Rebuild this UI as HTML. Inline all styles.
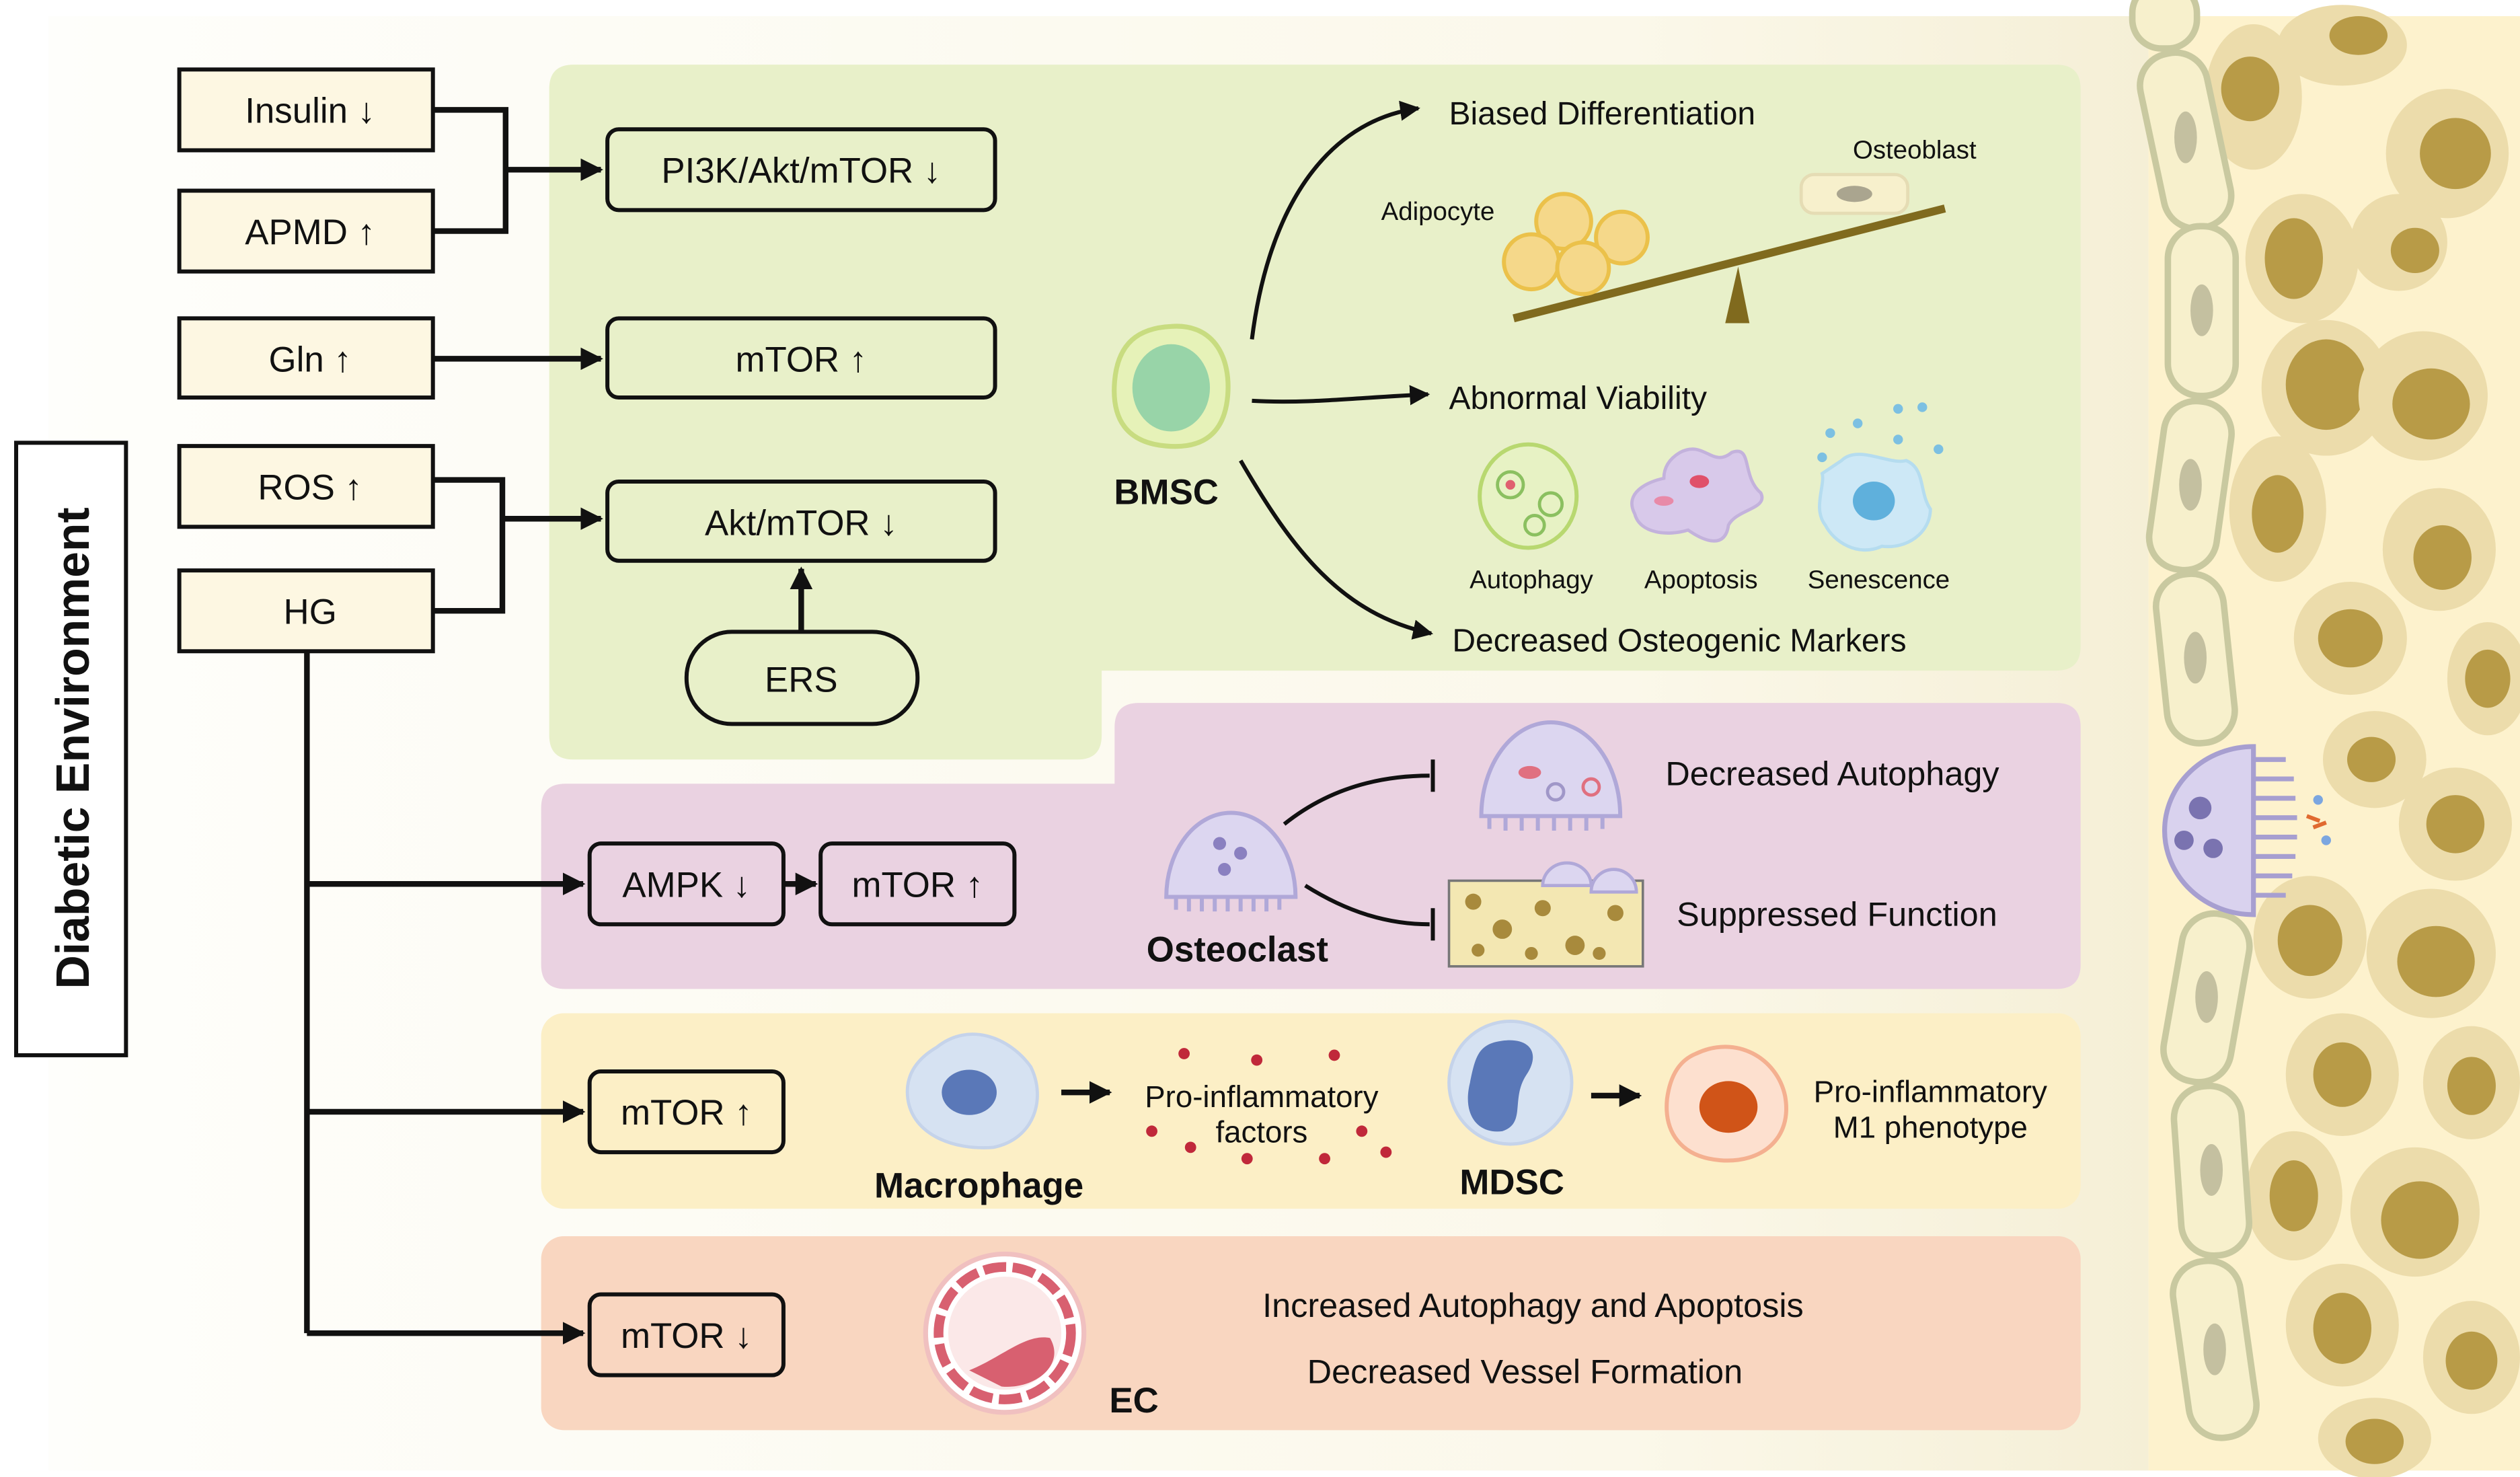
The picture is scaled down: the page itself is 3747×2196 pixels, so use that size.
<!DOCTYPE html>
<html><head><meta charset="utf-8"><style>
html,body{margin:0;padding:0;background:#fff;}
svg{display:block;}
text{font-family:"Liberation Sans",sans-serif;fill:#111;}
</style></head><body>
<svg width="3747" height="2196" viewBox="0 0 1560 914" preserveAspectRatio="none" xmlns="http://www.w3.org/2000/svg">
<defs>
<linearGradient id="bg" x1="0" y1="0" x2="1" y2="0">
<stop offset="0" stop-color="#fefefb"/><stop offset="0.75" stop-color="#fbf8ea"/><stop offset="1" stop-color="#f5efd6"/>
</linearGradient>
<marker id="ar" viewBox="0 0 10 10" refX="9" refY="5" markerWidth="4" markerHeight="4" orient="auto"><path d="M0,0L10,5L0,10z" fill="#111"/></marker>
<marker id="ar2" viewBox="0 0 10 10" refX="9" refY="5" markerWidth="5" markerHeight="5" orient="auto"><path d="M0,0L10,5L0,10z" fill="#111"/></marker>
</defs>
<rect width="1560" height="914" fill="#fff"/>
<rect x="30" y="10" width="1300" height="900" fill="url(#bg)"/>
<!-- bone tissue -->
<rect x="1330" y="10" width="230" height="900" fill="#fdf2cd"/>
<g>
<ellipse cx="1395" cy="60" rx="30" ry="45" fill="#ecdcab"/><ellipse cx="1393" cy="55" rx="18" ry="20" fill="#b89b47"/>
<ellipse cx="1425" cy="160" rx="35" ry="40" fill="#ecdcab"/><ellipse cx="1420" cy="160" rx="18" ry="25" fill="#b89b47"/>
<ellipse cx="1450" cy="28" rx="40" ry="25" fill="#ecdcab"/><ellipse cx="1460" cy="22" rx="18" ry="12" fill="#b89b47"/>
<ellipse cx="1515" cy="95" rx="38" ry="40" fill="#ecdcab"/><ellipse cx="1520" cy="95" rx="22" ry="22" fill="#b89b47"/>
<ellipse cx="1485" cy="150" rx="30" ry="30" fill="#ecdcab"/><ellipse cx="1495" cy="155" rx="15" ry="14" fill="#b89b47"/>
<ellipse cx="1440" cy="240" rx="40" ry="42" fill="#ecdcab"/><ellipse cx="1440" cy="238" rx="25" ry="28" fill="#b89b47"/>
<ellipse cx="1410" cy="315" rx="30" ry="45" fill="#ecdcab"/><ellipse cx="1410" cy="318" rx="16" ry="24" fill="#b89b47"/>
<ellipse cx="1500" cy="245" rx="40" ry="40" fill="#ecdcab"/><ellipse cx="1505" cy="250" rx="24" ry="22" fill="#b89b47"/>
<ellipse cx="1510" cy="340" rx="35" ry="38" fill="#ecdcab"/><ellipse cx="1512" cy="345" rx="18" ry="20" fill="#b89b47"/>
<ellipse cx="1455" cy="395" rx="35" ry="35" fill="#ecdcab"/><ellipse cx="1455" cy="395" rx="20" ry="18" fill="#b89b47"/>
<ellipse cx="1540" cy="420" rx="25" ry="35" fill="#ecdcab"/><ellipse cx="1540" cy="420" rx="14" ry="18" fill="#b89b47"/>
<ellipse cx="1470" cy="470" rx="32" ry="30" fill="#ecdcab"/><ellipse cx="1468" cy="470" rx="15" ry="14" fill="#b89b47"/>
<ellipse cx="1520" cy="510" rx="35" ry="35" fill="#ecdcab"/><ellipse cx="1520" cy="510" rx="18" ry="18" fill="#b89b47"/>
<ellipse cx="1430" cy="580" rx="35" ry="38" fill="#ecdcab"/><ellipse cx="1430" cy="582" rx="20" ry="22" fill="#b89b47"/>
<ellipse cx="1505" cy="590" rx="40" ry="40" fill="#ecdcab"/><ellipse cx="1508" cy="595" rx="24" ry="22" fill="#b89b47"/>
<ellipse cx="1450" cy="665" rx="35" ry="38" fill="#ecdcab"/><ellipse cx="1450" cy="665" rx="18" ry="20" fill="#b89b47"/>
<ellipse cx="1530" cy="670" rx="30" ry="35" fill="#ecdcab"/><ellipse cx="1530" cy="672" rx="15" ry="18" fill="#b89b47"/>
<ellipse cx="1420" cy="740" rx="30" ry="40" fill="#ecdcab"/><ellipse cx="1420" cy="740" rx="15" ry="22" fill="#b89b47"/>
<ellipse cx="1495" cy="750" rx="40" ry="40" fill="#ecdcab"/><ellipse cx="1498" cy="755" rx="24" ry="24" fill="#b89b47"/>
<ellipse cx="1450" cy="820" rx="35" ry="38" fill="#ecdcab"/><ellipse cx="1450" cy="822" rx="18" ry="22" fill="#b89b47"/>
<ellipse cx="1530" cy="840" rx="30" ry="35" fill="#ecdcab"/><ellipse cx="1530" cy="842" rx="16" ry="18" fill="#b89b47"/>
<ellipse cx="1470" cy="890" rx="35" ry="25" fill="#ecdcab"/><ellipse cx="1470" cy="892" rx="18" ry="14" fill="#b89b47"/>
</g>
<!-- lining cells -->
<g fill="#f7f0cc" stroke="#c9c9a0" stroke-width="4">
<rect x="1320" y="-10" width="40" height="40" rx="18"/>
<rect x="1332" y="32" width="42" height="110" rx="20" transform="rotate(-12 1353 87)"/>
<rect x="1342" y="140" width="42" height="105" rx="20"/>
<rect x="1335" y="248" width="42" height="105" rx="20" transform="rotate(8 1356 300)"/>
<rect x="1338" y="355" width="42" height="105" rx="20" transform="rotate(-6 1359 407)"/>
<rect x="1345" y="565" width="42" height="105" rx="20" transform="rotate(10 1366 617)"/>
<rect x="1348" y="672" width="42" height="105" rx="20" transform="rotate(-4 1369 724)"/>
<rect x="1350" y="780" width="42" height="110" rx="20" transform="rotate(-8 1371 835)"/>
</g>
<g fill="#c4c0a0">
<ellipse cx="1353" cy="85" rx="7" ry="16"/><ellipse cx="1363" cy="192" rx="7" ry="16"/><ellipse cx="1356" cy="300" rx="7" ry="16"/><ellipse cx="1359" cy="407" rx="7" ry="16"/><ellipse cx="1366" cy="617" rx="7" ry="16"/><ellipse cx="1369" cy="724" rx="7" ry="16"/><ellipse cx="1371" cy="835" rx="7" ry="16"/>
</g>
<!-- osteoclast on bone -->
<path d="M1395,462 A55,52 0 0 0 1395,566 Z" fill="#d9d2ee" stroke="#a79fd0" stroke-width="3"/>
<g stroke="#a79fd0" stroke-width="3" fill="none"><path d="M1395,470h20M1395,482h25M1395,494h26M1395,506h27M1395,518h27M1395,530h26M1395,542h24M1395,554h20"/></g>
<circle cx="1362" cy="500" r="7" fill="#7a73b0"/><circle cx="1352" cy="520" r="6" fill="#7a73b0"/><circle cx="1370" cy="525" r="6" fill="#7a73b0"/>
<circle cx="1435" cy="495" r="3" fill="#7ba6e0"/><circle cx="1440" cy="520" r="3" fill="#7ba6e0"/><path d="M1428,505 l8,3 M1432,512 l8,-3" stroke="#e06a30" stroke-width="2.5"/>

<!-- Diabetic environment -->
<rect x="10" y="274" width="68" height="379" fill="#fff" stroke="#111" stroke-width="2.5"/>
<text transform="translate(55 463) rotate(-90)" text-anchor="middle" font-size="29" font-weight="bold">Diabetic Environment</text>

<!-- panels -->
<path d="M355,40 H1273 Q1288,40 1288,55 V400 Q1288,415 1273,415 H682 V455 Q682,470 667,470 H355 Q340,470 340,455 V55 Q340,40 355,40Z" fill="#e8f0c9"/>
<path d="M705,435 H1273 Q1288,435 1288,450 V597 Q1288,612 1273,612 H350 Q335,612 335,597 V500 Q335,485 350,485 H690 V450 Q690,435 705,435Z" fill="#ead2e1"/>
<rect x="335" y="627" width="953" height="121" rx="14" fill="#fcefc6"/>
<rect x="335" y="765" width="953" height="120" rx="14" fill="#f9d6c0"/>

<!-- left boxes -->
<g fill="#fdf7e2" stroke="#111" stroke-width="2.5">
<rect x="111" y="43" width="157" height="50"/><rect x="111" y="118" width="157" height="50"/><rect x="111" y="197" width="157" height="49"/><rect x="111" y="276" width="157" height="50"/><rect x="111" y="353" width="157" height="50"/>
</g>
<g font-size="22" text-anchor="middle">
<text x="192" y="76">Insulin ↓</text><text x="192" y="151">APMD ↑</text><text x="192" y="230">Gln ↑</text><text x="192" y="309">ROS ↑</text><text x="192" y="386">HG</text>
</g>
<!-- green boxes -->
<g fill="#e8f0c9" stroke="#111" stroke-width="2.5">
<rect x="376" y="80" width="240" height="50" rx="7"/><rect x="376" y="197" width="240" height="49" rx="7"/><rect x="376" y="298" width="240" height="49" rx="7"/><rect x="425" y="391" width="143" height="57" rx="28"/>
</g>
<g font-size="22" text-anchor="middle">
<text x="496" y="113">PI3K/Akt/mTOR ↓</text><text x="496" y="230">mTOR ↑</text><text x="496" y="331">Akt/mTOR ↓</text><text x="496" y="428">ERS</text>
</g>
<!-- connectors -->
<g stroke="#111" stroke-width="3.5" fill="none">
<path d="M268,68H313V143H268"/><path d="M313,105H372" marker-end="url(#ar)"/>
<path d="M268,222H372" marker-end="url(#ar)"/>
<path d="M268,297H311V378H268"/><path d="M311,321H372" marker-end="url(#ar)"/>
<path d="M496,391V352" marker-end="url(#ar)"/>
<path d="M190,403V825"/>
<path d="M190,547H361" marker-end="url(#ar)"/><path d="M190,688H361" marker-end="url(#ar)"/><path d="M190,825H361" marker-end="url(#ar)"/>
<path d="M485,547H505" marker-end="url(#ar)"/>
</g>
<g fill="none" stroke="#111" stroke-width="2.5">
<rect x="365" y="522" width="120" height="50" rx="7"/><rect x="508" y="522" width="120" height="50" rx="7"/><rect x="365" y="663" width="120" height="50" rx="7"/><rect x="365" y="801" width="120" height="50" rx="7"/>
</g>
<g font-size="22" text-anchor="middle">
<text x="425" y="555">AMPK ↓</text><text x="568" y="555">mTOR ↑</text><text x="425" y="696">mTOR ↑</text><text x="425" y="834">mTOR ↓</text>
</g>

<!-- BMSC -->
<path d="M725,202 C752,200 762,222 760,245 C758,268 745,278 722,276 C698,274 688,260 690,236 C692,212 705,203 725,202Z" fill="#e6f2b8" stroke="#c8dc80" stroke-width="3"/>
<ellipse cx="725" cy="240" rx="24" ry="27" fill="#98d4a8"/>
<text x="722" y="312" font-size="22" font-weight="bold" text-anchor="middle">BMSC</text>
<g stroke="#111" stroke-width="2.5" fill="none">
<path d="M775,210 C785,130 820,75 878,67" marker-end="url(#ar2)"/>
<path d="M775,248 C810,250 840,246 884,244" marker-end="url(#ar2)"/>
<path d="M768,285 C800,340 830,380 886,392" marker-end="url(#ar2)"/>
</g>
<g font-size="20">
<text x="897" y="77">Biased Differentiation</text><text x="897" y="253">Abnormal Viability</text><text x="899" y="403">Decreased Osteogenic Markers</text>
</g>
<text x="855" y="136" font-size="16">Adipocyte</text><text x="1147" y="98" font-size="16">Osteoblast</text>
<line x1="937" y1="197" x2="1204" y2="129" stroke="#806a1e" stroke-width="5"/>
<path d="M1076,165 L1068,200 H1083Z" fill="#806a1e"/>
<g fill="#f5d88a" stroke="#ebc14a" stroke-width="2.5">
<circle cx="968" cy="137" r="17"/><circle cx="1004" cy="147" r="16"/><circle cx="948" cy="162" r="17"/><circle cx="980" cy="166" r="16"/>
</g>
<rect x="1115" y="108" width="66" height="24" rx="8" fill="#f7f0cc" stroke="#e5dcb4" stroke-width="2"/><ellipse cx="1148" cy="120" rx="11" ry="5" fill="#aaa58f"/>
<!-- autophagy -->
<ellipse cx="946" cy="307" rx="30" ry="32" fill="#e7f2c4" stroke="#b8d870" stroke-width="2.5"/>
<circle cx="935" cy="300" r="8" fill="none" stroke="#8bc060" stroke-width="2"/><circle cx="935" cy="300" r="3" fill="#e06070"/>
<circle cx="960" cy="312" r="7" fill="none" stroke="#8bc060" stroke-width="2"/><circle cx="950" cy="325" r="6" fill="none" stroke="#8bc060" stroke-width="2"/>
<!-- apoptosis -->
<path d="M1040,280 C1055,272 1060,290 1072,280 C1085,275 1078,295 1090,305 C1095,315 1075,315 1070,325 C1068,340 1055,335 1045,328 C1032,332 1015,330 1012,318 C1005,305 1020,298 1030,296 C1030,288 1035,283 1040,280Z" fill="#d8c9ea" stroke="#c3b2dc" stroke-width="2"/>
<ellipse cx="1052" cy="298" rx="6" ry="4" fill="#e0506a"/><ellipse cx="1030" cy="310" rx="6" ry="3" fill="#e88aa8"/>
<!-- senescence -->
<path d="M1140,285 C1150,275 1170,288 1180,285 C1192,290 1188,305 1195,315 C1195,330 1180,340 1165,338 C1150,345 1135,335 1130,325 C1122,315 1130,300 1128,293Z" fill="#cde8f6" stroke="#b5dcef" stroke-width="2"/>
<ellipse cx="1160" cy="310" rx="13" ry="12" fill="#5fb0dc"/>
<g fill="#7cc0e2"><circle cx="1133" cy="268" r="3"/><circle cx="1150" cy="262" r="3"/><circle cx="1175" cy="253" r="3"/><circle cx="1190" cy="252" r="3"/><circle cx="1175" cy="272" r="3"/><circle cx="1200" cy="278" r="3"/><circle cx="1128" cy="283" r="3"/></g>
<g font-size="16" text-anchor="middle"><text x="948" y="364">Autophagy</text><text x="1053" y="364">Apoptosis</text><text x="1163" y="364">Senescence</text></g>

<!-- osteoclast row -->
<path d="M722,555 A40,52 0 0 1 802,555 Z" fill="#dcd6f0" stroke="#b0a8d8" stroke-width="2.5"/>
<g stroke="#b0a8d8" stroke-width="2.5"><path d="M728,555v8M736,555v9M744,555v9M752,555v9M760,555v9M768,555v9M776,555v9M784,555v9M792,555v8"/></g>
<circle cx="755" cy="522" r="4" fill="#8a80c0"/><circle cx="768" cy="528" r="4" fill="#8a80c0"/><circle cx="758" cy="538" r="4" fill="#8a80c0"/>
<text x="766" y="595" font-size="22" font-weight="bold" text-anchor="middle">Osteoclast</text>
<g stroke="#111" stroke-width="2.5" fill="none">
<path d="M795,510 C820,490 850,480 885,480"/><path d="M887,470V490"/>
<path d="M808,548 C835,565 860,572 885,572"/><path d="M887,562V582"/>
</g>
<path d="M917,505 A43,58 0 0 1 1003,505 Z" fill="#dcd6f0" stroke="#b0a8d8" stroke-width="2.5"/>
<g stroke="#b0a8d8" stroke-width="2.5"><path d="M922,505v8M932,505v9M942,505v9M952,505v9M962,505v9M972,505v9M982,505v9M992,505v8"/></g>
<ellipse cx="947" cy="478" rx="7" ry="4" fill="#e07080"/><circle cx="963" cy="490" r="5" fill="none" stroke="#a097c8" stroke-width="2"/><circle cx="985" cy="487" r="5" fill="none" stroke="#e07080" stroke-width="2"/>
<rect x="897" y="545" width="120" height="53" fill="#f3e7b2" stroke="#777" stroke-width="1.5"/>
<g fill="#a88a3c"><circle cx="912" cy="558" r="5"/><circle cx="930" cy="575" r="6"/><circle cx="955" cy="562" r="5"/><circle cx="975" cy="585" r="6"/><circle cx="1000" cy="565" r="5"/><circle cx="915" cy="588" r="4"/><circle cx="948" cy="590" r="4"/><circle cx="990" cy="590" r="4"/></g>
<path d="M955,548 A15,14 0 0 1 985,548Z M985,552 A14,14 0 0 1 1013,552Z" fill="#dcd6f0" stroke="#b0a8d8" stroke-width="2"/>
<text x="1031" y="486" font-size="21">Decreased Autophagy</text><text x="1038" y="573" font-size="21">Suppressed Function</text>

<!-- macrophage row -->
<path d="M580,648 C600,632 625,642 638,660 C648,680 640,705 615,710 C590,712 565,702 562,680 C560,665 568,655 580,648Z" fill="#d6e2f2" stroke="#c5d3ea" stroke-width="2"/>
<ellipse cx="600" cy="676" rx="17" ry="14" fill="#5a78b8"/>
<text x="606" y="741" font-size="22" font-weight="bold" text-anchor="middle">Macrophage</text>
<path d="M657,676H687" stroke="#111" stroke-width="3.5" marker-end="url(#ar)"/>
<text x="781" y="685" font-size="19" text-anchor="middle">Pro-inflammatory</text><text x="781" y="707" font-size="19" text-anchor="middle">factors</text>
<g fill="#c0283a"><circle cx="733" cy="652" r="3.5"/><circle cx="778" cy="656" r="3.5"/><circle cx="826" cy="653" r="3.5"/><circle cx="713" cy="700" r="3.5"/><circle cx="737" cy="710" r="3.5"/><circle cx="772" cy="717" r="3.5"/><circle cx="820" cy="717" r="3.5"/><circle cx="843" cy="700" r="3.5"/><circle cx="858" cy="713" r="3.5"/></g>
<ellipse cx="935" cy="670" rx="38" ry="38" fill="#d6e2f2" stroke="#c5d3ea" stroke-width="2"/>
<path d="M925,645 C945,640 955,650 945,665 C935,680 945,695 930,700 C915,702 905,690 910,670 C913,655 915,648 925,645Z" fill="#5a78b8"/>
<text x="936" y="739" font-size="22" font-weight="bold" text-anchor="middle">MDSC</text>
<path d="M985,678H1015" stroke="#111" stroke-width="3.5" marker-end="url(#ar)"/>
<path d="M1050,652 C1075,640 1100,655 1105,678 C1110,705 1090,720 1065,718 C1040,716 1030,700 1032,680 C1034,665 1040,656 1050,652Z" fill="#fde0cf" stroke="#f4b090" stroke-width="2.5"/>
<ellipse cx="1070" cy="685" rx="18" ry="16" fill="#d05418"/>
<text x="1195" y="682" font-size="19" text-anchor="middle">Pro-inflammatory</text><text x="1195" y="704" font-size="19" text-anchor="middle">M1 phenotype</text>

<!-- EC row -->
<circle cx="622" cy="825" r="49" fill="#fff" stroke="#f0c0c0" stroke-width="3"/>
<circle cx="622" cy="825" r="41" fill="none" stroke="#d86070" stroke-width="6" stroke-dasharray="14 4"/>
<circle cx="622" cy="825" r="35" fill="#fbe8e8"/>
<path d="M600,848 C620,840 635,825 650,828 C660,845 640,860 620,858Z" fill="#d86070"/>
<text x="702" y="874" font-size="22" font-weight="bold" text-anchor="middle">EC</text>
<text x="949" y="815" font-size="21" text-anchor="middle">Increased Autophagy and Apoptosis</text>
<text x="944" y="856" font-size="21" text-anchor="middle">Decreased Vessel Formation</text>
</svg>
</body></html>
